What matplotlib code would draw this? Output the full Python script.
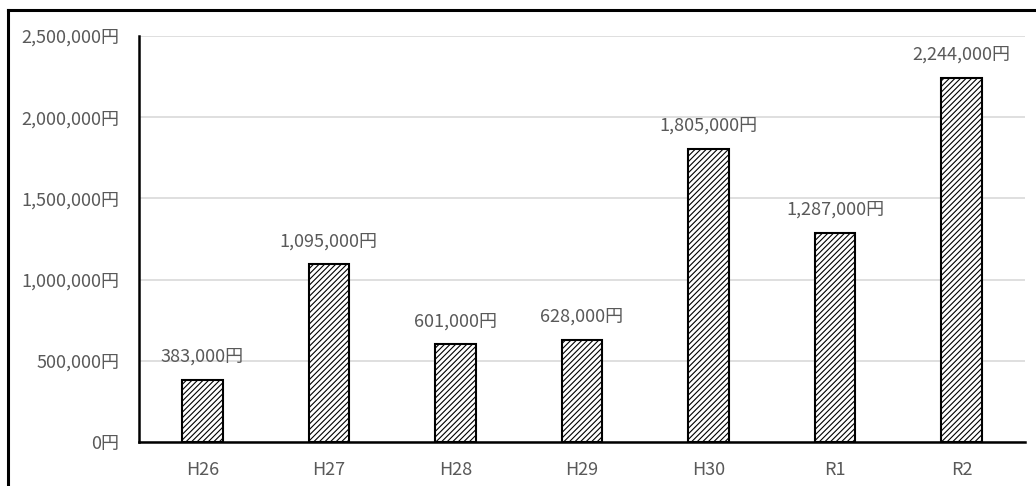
import matplotlib.pyplot as plt
from matplotlib.lines import Line2D
from matplotlib.ticker import FuncFormatter

plt.rcParams['font.family'] = ['Noto Sans CJK JP', 'DejaVu Sans']
plt.rcParams['hatch.linewidth'] = 0.8

years = ['H26', 'H27', 'H28', 'H29', 'H30', 'R1', 'R2']
amounts = [383000, 1095000, 601000, 628000, 1805000, 1287000, 2244000]
yticks = [0, 500000, 1000000, 1500000, 2000000, 2500000]

gray = '#595959'

fig = plt.figure(figsize=(10.36, 4.86), dpi=100)
ax = fig.add_axes([139 / 1036, 1 - 442 / 486, (1025 - 139) / 1036, (442 - 36) / 486])

x = range(len(years))
bars = ax.bar(x, amounts, width=0.32, color='white', edgecolor='black',
              linewidth=1.5, hatch='//////', zorder=3)

for xi, v in zip(x, amounts):
    ax.annotate(f'{v:,}円', (xi, v), xytext=(0, 10), textcoords='offset points',
                ha='center', va='bottom', fontsize=13, color=gray)

ax.set_xlim(-0.5, len(years) - 0.5)
ax.set_ylim(0, 2500000)
ax.set_yticks(yticks)
ax.yaxis.set_major_formatter(FuncFormatter(lambda v, p: f'{int(v):,}円'))
ax.set_xticks(list(x))
ax.set_xticklabels(years)
ax.tick_params(axis='both', length=0, labelsize=13, labelcolor=gray)
ax.tick_params(axis='y', pad=14)
ax.tick_params(axis='x', pad=14)
ax.grid(axis='y', color='#d9d9d9', linewidth=1.2, zorder=0)

for side in ['top', 'right']:
    ax.spines[side].set_visible(False)
ax.spines['left'].set_linewidth(1.8)
ax.spines['bottom'].set_linewidth(1.8)

# outer frame (cut off at right and bottom)
fig.add_artist(Line2D([8 / 1036, 8 / 1036], [0, 1 - 10 / 486], color='black', lw=2.2))
fig.add_artist(Line2D([8 / 1036, 1], [1 - 10 / 486, 1 - 10 / 486], color='black', lw=2.2))

fig.savefig('out.png', dpi=100)
